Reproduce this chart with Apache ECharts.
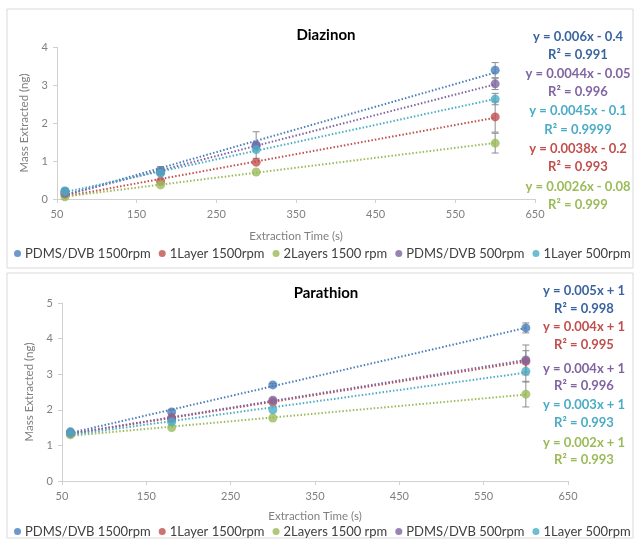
<!DOCTYPE html>
<html><head><meta charset="utf-8">
<script src="https://cdn.jsdelivr.net/npm/echarts@6/dist/echarts.min.js"></script>
<style>html,body{margin:0;padding:0;background:#fff}#c{width:635px;height:540px}</style>
</head><body><div id="c"></div>
<script>
// ---- data ----
const times = [60, 180, 300, 600];
const seriesNames = ['PDMS/DVB 1500rpm', '1Layer 1500rpm', '2Layers 1500 rpm', 'PDMS/DVB 500rpm', '1Layer 500rpm'];
const xTickLabels = [50, 150, 250, 350, 450, 550, 650];

// Diazinon
const diaPdms1500 = [0.21, 0.75, 1.42, 3.39];
const dia1L1500   = [0.12, 0.47, 0.97, 2.16];
const dia2L1500   = [0.06, 0.37, 0.71, 1.47];
const diaPdms500  = [0.15, 0.70, 1.40, 3.03];
const dia1L500    = [0.20, 0.68, 1.30, 2.63];
const diaErrPdms1500 = [0.05, 0.10, 0.35, 0.20];
const diaErr1L1500   = [0, 0, 0, 0.40];
const diaErr2L1500   = [0, 0, 0, 0.26];
const diaErrPdms500  = [0, 0, 0, 0.15];
const diaErr1L500    = [0, 0, 0, 0.15];
// equations in display order (top to bottom) with the series index for colour
const diaEquations = [
  ['y = 0.006x - 0.4', 'R² = 0.991'],
  ['y = 0.0044x - 0.05', 'R² = 0.996'],
  ['y = 0.0045x - 0.1', 'R² = 0.9999'],
  ['y = 0.0038x - 0.2', 'R² = 0.993'],
  ['y = 0.0026x - 0.08', 'R² = 0.999']
];
const diaEqSeries = [0, 3, 4, 1, 2];

// Parathion
const parPdms1500 = [1.38, 1.94, 2.70, 4.30];
const par1L1500   = [1.33, 1.77, 2.22, 3.36];
const par2L1500   = [1.30, 1.50, 1.77, 2.44];
const parPdms500  = [1.35, 1.75, 2.27, 3.40];
const par1L500    = [1.35, 1.66, 2.00, 3.08];
const parErrPdms1500 = [0.04, 0.06, 0.04, 0.14];
const parErr1L1500   = [0, 0, 0, 0.30];
const parErr2L1500   = [0, 0, 0, 0.36];
const parErrPdms500  = [0, 0, 0, 0.42];
const parErr1L500    = [0, 0, 0, 0.30];
const parEquations = [
  ['y = 0.005x + 1', 'R² = 0.998'],
  ['y = 0.004x + 1', 'R² = 0.995'],
  ['y = 0.004x + 1', 'R² = 0.996'],
  ['y = 0.003x + 1', 'R² = 0.993'],
  ['y = 0.002x + 1', 'R² = 0.993']
];
const parEqSeries = [0, 1, 3, 4, 2];

// ---- style ----
const colors = ['#4A7EBB', '#C0504D', '#9BBB59', '#8064A2', '#4BACC6'];
const eqColors = ['#3A64A0', '#C0504D', '#9BBB59', '#8064A2', '#4BACC6'];
const FONT = 'Lato';

function fit(xs, ys) {
  const n = xs.length;
  let sx = 0, sy = 0, sxx = 0, sxy = 0;
  for (let i = 0; i < n; i++) { sx += xs[i]; sy += ys[i]; sxx += xs[i]*xs[i]; sxy += xs[i]*ys[i]; }
  const m = (n*sxy - sx*sy) / (n*sxx - sx*sx);
  const b = (sy - m*sx) / n;
  return [[xs[0], m*xs[0] + b], [xs[n-1], m*xs[n-1] + b]];
}

const panels = [
  { vals: [diaPdms1500, dia1L1500, dia2L1500, diaPdms500, dia1L500],
    errs: [diaErrPdms1500, diaErr1L1500, diaErr2L1500, diaErrPdms500, diaErr1L500] },
  { vals: [parPdms1500, par1L1500, par2L1500, parPdms500, par1L500],
    errs: [parErrPdms1500, parErr1L1500, parErr2L1500, parErrPdms500, parErr1L500] }
];

const series = [];
panels.forEach((p, gi) => {
  p.vals.forEach((v, si) => {
    series.push({
      name: seriesNames[si] + ' trend', type: 'line', xAxisIndex: gi, yAxisIndex: gi,
      data: fit(times, v), symbol: 'none', silent: true, z: 2,
      lineStyle: { color: colors[si], width: 2, type: [1.5, 2] }
    });
  });
  const errData = [];
  p.vals.forEach((v, si) => v.forEach((y, i) => { if (p.errs[si][i] > 0) errData.push([times[i], y, p.errs[si][i]]); }));
  series.push({
    type: 'custom', xAxisIndex: gi, yAxisIndex: gi, silent: true, z: 3,
    data: errData,
    renderItem: function (params, api) {
      const x = api.value(0), y = api.value(1), e = api.value(2);
      const top = api.coord([x, y + e]), bot = api.coord([x, y - e]);
      const st = { stroke: '#8c8c8c', lineWidth: 1 };
      return { type: 'group', children: [
        { type: 'line', shape: { x1: top[0], y1: top[1], x2: bot[0], y2: bot[1] }, style: st },
        { type: 'line', shape: { x1: top[0]-3.5, y1: top[1], x2: top[0]+3.5, y2: top[1] }, style: st },
        { type: 'line', shape: { x1: bot[0]-3.5, y1: bot[1], x2: bot[0]+3.5, y2: bot[1] }, style: st }
      ]};
    }
  });
  p.vals.forEach((v, si) => {
    series.push({
      name: seriesNames[si], type: 'scatter', xAxisIndex: gi, yAxisIndex: gi,
      data: times.map((t, i) => [t, v[i]]), symbol: 'circle', symbolSize: 9, z: 4,
      itemStyle: { color: colors[si] }
    });
  });
});

const grids = [
  { left: 57, top: 47, width: 478, height: 152, outerBoundsMode: 'none', containLabel: false },
  { left: 62, top: 303, width: 506, height: 178, outerBoundsMode: 'none', containLabel: false }
];
const yMax = [4, 5];

function xAxis(gi) {
  return {
    type: 'value', gridIndex: gi, min: 50, max: 650,
    name: 'Extraction Time (s)', nameLocation: 'middle', nameGap: gi === 0 ? 31 : 29,
    nameTextStyle: { color: '#7f7f7f', fontSize: 11.5, fontFamily: FONT },
    axisLine: { lineStyle: { color: '#d0d0d0' } },
    axisTick: { show: true, length: 4, lineStyle: { color: '#d0d0d0' }, customValues: xTickLabels },
    axisLabel: { color: '#7f7f7f', fontSize: 11, fontFamily: FONT, margin: 10, customValues: xTickLabels },
    splitLine: { show: false }
  };
}
function yAxis(gi) {
  return {
    type: 'value', gridIndex: gi, min: 0, max: yMax[gi], interval: 1,
    name: 'Mass Extracted (ng)', nameLocation: 'middle', nameGap: 23, nameRotate: 90,
    nameTextStyle: { color: '#7f7f7f', fontSize: 11.5, fontFamily: FONT },
    axisLine: { show: true, lineStyle: { color: '#d0d0d0' } },
    axisTick: { show: true, length: 4, lineStyle: { color: '#d0d0d0' } },
    axisLabel: { color: '#7f7f7f', fontSize: 11, fontFamily: FONT, margin: 9 },
    splitLine: { show: false }
  };
}

const graphics = [
  { type: 'rect', shape: { x: 7, y: 9, width: 626, height: 259 }, style: { fill: 'none', stroke: '#d9d9d9' }, z: -1 },
  { type: 'rect', shape: { x: 7, y: 273, width: 626, height: 265 }, style: { fill: 'none', stroke: '#d9d9d9' }, z: -1 }
];
function addEquations(eqs, colorIdx, cx, ys) {
  eqs.forEach((pair, k) => {
    pair.forEach((line, j) => {
      graphics.push({ type: 'text', x: cx, y: ys[k*2 + j], style: {
        text: line, fill: eqColors[colorIdx[k]], font: 'bold 13px ' + FONT, textAlign: 'center', textVerticalAlign: 'middle' } });
    });
  });
}
addEquations(diaEquations, diaEqSeries, 578, [37, 55, 74, 92, 111, 130, 149, 167, 187, 205]);
addEquations(parEquations, parEqSeries, 584, [291, 309, 327, 345, 369, 386, 405, 423, 443, 460]);

const legendCommon = {
  data: seriesNames, icon: 'circle', itemWidth: 7, itemHeight: 7, itemGap: 8,
  textStyle: { color: '#404040', fontSize: 13, fontFamily: FONT, padding: [0, 0, 0, -1] },
  selectedMode: false, left: 14, width: 630, padding: 0
};

const chart = echarts.init(document.getElementById('c'));
chart.setOption({
  animation: false,
  title: [
    { text: 'Diazinon', left: 321, top: 23, textAlign: 'center', textStyle: { fontSize: 15, fontWeight: 'bold', color: '#000', fontFamily: FONT } },
    { text: 'Parathion', left: 321, top: 281, textAlign: 'center', textStyle: { fontSize: 15, fontWeight: 'bold', color: '#000', fontFamily: FONT } }
  ],
  legend: [
    Object.assign({}, legendCommon, { top: 247 }),
    Object.assign({}, legendCommon, { top: 525 })
  ],
  grid: grids,
  xAxis: [xAxis(0), xAxis(1)],
  yAxis: [yAxis(0), yAxis(1)],
  series: series,
  graphic: graphics
});
</script></body></html>
